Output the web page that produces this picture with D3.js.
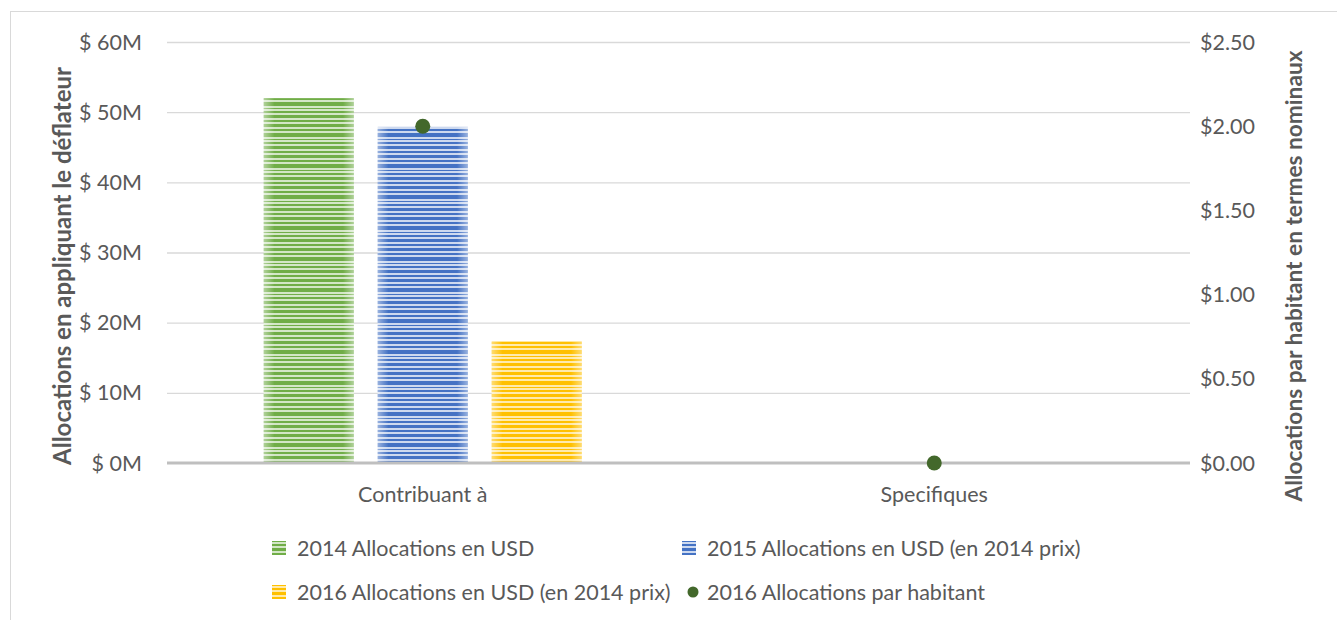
<!DOCTYPE html>
<html lang="fr">
<head>
<meta charset="UTF-8">
<title>Allocations</title>
<script src="https://d3js.org/d3.v7.min.js"></script>
<style>
  body { margin: 0; background: #fff; }
  svg text { font-family: Lato, "Open Sans", sans-serif; fill: #595959; }
</style>
</head>
<body>
<svg id="chart" width="1337" height="620"></svg>
<script>
const categories = ["Contribuant à", "Specifiques"];
const seriesNames = [
  "2014 Allocations en USD",
  "2015 Allocations en USD (en 2014 prix)",
  "2016 Allocations en USD (en 2014 prix)"
];
const alloc2014 = [52.0, 0];
const alloc2015 = [47.9, 0];
const alloc2016 = [17.3, 0];
const perCapitaName = "2016 Allocations par habitant";
const perCapita2016 = [2.00, 0.00];
const leftTicks = [0, 10, 20, 30, 40, 50, 60];
const rightTicks = [0, 0.5, 1, 1.5, 2, 2.5];

const colors = ["#70ad47", "#4472c4", "#ffc000"];
const lightColors = ["#d3e6c6", "#cdd9ef", "#ffeaab"];
const dotColor = "#43682b";

const svg = d3.select("#chart");
const margin = {left: 167, right: 147, top: 42, bottom: 157};
const W = 1337, H = 620;

// chart border
svg.append("rect")
  .attr("x", 10.5).attr("y", 11.5)
  .attr("width", 1340).attr("height", 620)
  .attr("fill", "none").attr("stroke", "#d9d9d9");

// stripe patterns
const defs = svg.append("defs");
const stripes = [[0, 3], [5, 2], [9, 4], [15, 1], [18, 2], [22, 3], [27, 2]];
colors.forEach((c, i) => {
  const p = defs.append("pattern")
    .attr("id", "pat" + i)
    .attr("patternUnits", "userSpaceOnUse")
    .attr("width", 8).attr("height", 31);
  p.append("rect").attr("width", 8).attr("height", 31).attr("fill", lightColors[i]);
  stripes.forEach(s => p.append("rect")
    .attr("y", s[0]).attr("width", 8).attr("height", s[1]).attr("fill", c));
});
const fade = defs.append("linearGradient").attr("id", "fade");
fade.append("stop").attr("offset", "0%").attr("stop-color", "#fff").attr("stop-opacity", 0.45);
fade.append("stop").attr("offset", "12%").attr("stop-color", "#fff").attr("stop-opacity", 0);
fade.append("stop").attr("offset", "88%").attr("stop-color", "#fff").attr("stop-opacity", 0);
fade.append("stop").attr("offset", "100%").attr("stop-color", "#fff").attr("stop-opacity", 0.45);

const x = d3.scaleBand().domain(categories).range([margin.left, W - margin.right]);
const xs = d3.scaleBand().domain(seriesNames).range([-159, 159]).paddingInner(0.21);
const yL = d3.scaleLinear().domain([0, 60]).range([H - margin.bottom, margin.top]);
const yR = d3.scaleLinear().domain([0, 2.5]).range([H - margin.bottom, margin.top]);

// gridlines
svg.append("g").selectAll("line").data(leftTicks.slice(1)).join("line")
  .attr("x1", margin.left).attr("x2", W - margin.right)
  .attr("y1", d => yL(d) + 0.5).attr("y2", d => yL(d) + 0.5)
  .attr("stroke", "#d9d9d9").attr("stroke-width", 1.3);

// left ticks
svg.append("g").selectAll("text").data(leftTicks).join("text")
  .attr("x", 142).attr("y", d => yL(d)).attr("dy", "0.35em")
  .attr("text-anchor", "end").style("font-size", "21.5px")
  .text(d => "$ " + d + "M");

// right ticks
svg.append("g").selectAll("text").data(rightTicks).join("text")
  .attr("x", 1200).attr("y", d => yR(d)).attr("dy", "0.35em")
  .attr("text-anchor", "start").style("font-size", "21.5px")
  .text(d => "$" + d.toFixed(2));

// bars
const allSeries = [alloc2014, alloc2015, alloc2016];
allSeries.forEach((vals, si) => {
  const g = svg.append("g");
  const data = categories.map((c, ci) => ({c, v: vals[ci]})).filter(d => d.v > 0);
  const bx = d => x(d.c) + x.bandwidth() / 2 + xs(seriesNames[si]);
  g.selectAll("rect.bar").data(data).join("rect")
    .attr("x", bx).attr("y", d => yL(d.v))
    .attr("width", xs.bandwidth()).attr("height", d => yL(0) - yL(d.v))
    .attr("fill", "url(#pat" + si + ")");
  g.selectAll("rect.fade").data(data).join("rect")
    .attr("x", bx).attr("y", d => yL(d.v))
    .attr("width", xs.bandwidth()).attr("height", d => yL(0) - yL(d.v))
    .attr("fill", "url(#fade)");
});

// x axis line
svg.append("line")
  .attr("x1", margin.left).attr("x2", W - margin.right)
  .attr("y1", yL(0)).attr("y2", yL(0))
  .attr("stroke", "#bfbfbf").attr("stroke-width", 3);

// category labels
svg.append("g").selectAll("text").data(categories).join("text")
  .attr("x", d => x(d) + x.bandwidth() / 2).attr("y", 494).attr("dy", "0.35em")
  .attr("text-anchor", "middle").style("font-size", "21.5px")
  .text(d => d);

// per capita dots
svg.append("g").selectAll("circle").data(categories).join("circle")
  .attr("cx", d => x(d) + x.bandwidth() / 2)
  .attr("cy", (d, i) => yR(perCapita2016[i]))
  .attr("r", 7.5).attr("fill", dotColor);

// axis titles
svg.append("text")
  .attr("transform", "translate(71,266) rotate(-90)")
  .attr("text-anchor", "middle").style("font-size", "24px").style("font-weight", "bold")
  .text("Allocations en appliquant le déflateur");
svg.append("text")
  .attr("transform", "translate(1302,276) rotate(-90)")
  .attr("text-anchor", "middle").style("font-size", "22.7px").style("font-weight", "bold")
  .text("Allocations par habitant en termes nominaux");

// legend
const legendItems = [
  {name: seriesNames[0], type: "bar", i: 0, x: 272, y: 548},
  {name: seriesNames[1], type: "bar", i: 1, x: 682, y: 548},
  {name: seriesNames[2], type: "bar", i: 2, x: 272, y: 592},
  {name: perCapitaName, type: "dot", x: 682, y: 592}
];
const lg = svg.append("g").selectAll("g").data(legendItems).join("g")
  .attr("transform", d => "translate(" + d.x + "," + d.y + ")");
lg.filter(d => d.type === "bar").append("rect")
  .attr("x", 0).attr("y", -7).attr("width", 14).attr("height", 14)
  .attr("fill", d => "url(#pat" + d.i + ")");
lg.filter(d => d.type === "dot").append("circle")
  .attr("cx", 11).attr("cy", 0).attr("r", 5.5).attr("fill", dotColor);
lg.append("text")
  .attr("x", 25).attr("y", 0).attr("dy", "0.35em").style("font-size", "21.5px")
  .text(d => d.name);
</script>
</body>
</html>
